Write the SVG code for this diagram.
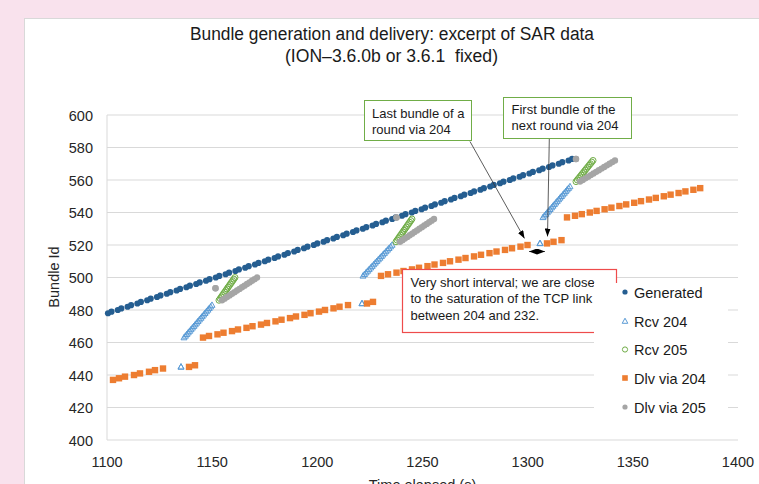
<svg xmlns="http://www.w3.org/2000/svg" width="759" height="484" viewBox="0 0 759 484">
<style>
.grid{stroke:#D9D9D9;stroke-width:1;fill:none}
.tick{font-family:"Liberation Sans",Arial,sans-serif;font-size:14.5px;fill:#262626}
.ttl{font-family:"Liberation Sans",Arial,sans-serif;font-size:18px;fill:#1a1a1a}
.note{font-family:"Liberation Sans",Arial,sans-serif;font-size:13px;fill:#1a1a1a}
.leg{font-family:"Liberation Sans",Arial,sans-serif;font-size:14.5px;fill:#1a1a1a}
.series{fill:none;stroke:none}
.conn{stroke:#333;stroke-width:0.8;fill:none}
</style>
<defs>
<marker id="mGen" viewBox="-4 -4 8 8" markerWidth="8" markerHeight="8" markerUnits="userSpaceOnUse" refX="0" refY="0"><circle r="3.1" fill="#255E91"/></marker>
<marker id="mR204" viewBox="-4 -4 8 8" markerWidth="8" markerHeight="8" markerUnits="userSpaceOnUse" refX="0" refY="0"><path d="M0,-3.2 L3,2.2 L-3,2.2 Z" fill="none" stroke="#5B9BD5" stroke-width="1"/></marker>
<marker id="mR205" viewBox="-4 -4 8 8" markerWidth="8" markerHeight="8" markerUnits="userSpaceOnUse" refX="0" refY="0"><circle r="3" fill="none" stroke="#70AD47" stroke-width="1"/></marker>
<marker id="mD204" viewBox="-4 -4 8 8" markerWidth="8" markerHeight="8" markerUnits="userSpaceOnUse" refX="0" refY="0"><rect x="-3.2" y="-3.2" width="6.4" height="6.4" fill="#ED7D31"/></marker>
<marker id="mD205" viewBox="-4 -4 8 8" markerWidth="8" markerHeight="8" markerUnits="userSpaceOnUse" refX="0" refY="0"><circle r="3.2" fill="#A5A5A5"/></marker>
<marker id="arr" viewBox="0 0 8 6" markerWidth="8" markerHeight="6" markerUnits="userSpaceOnUse" refX="8" refY="3" orient="auto-start-reverse"><path d="M0,0 L8,3 L0,6 Z" fill="#000"/></marker>
</defs>

<rect x="0" y="0" width="759" height="484" fill="#F9E2ED"/>
<rect id="chart-area" x="24.5" y="18.5" width="750" height="480" fill="#FFFFFF" stroke="#D9D9D9" stroke-width="1"/>

<g id="title">
<text class="ttl" x="392" y="40" text-anchor="middle" textLength="404" lengthAdjust="spacingAndGlyphs">Bundle generation and delivery: excerpt of SAR data</text>
<text class="ttl" x="391.5" y="61.5" text-anchor="middle" textLength="213" lengthAdjust="spacingAndGlyphs" xml:space="preserve">(ION–3.6.0b or 3.6.1  fixed)</text>
</g>

<g id="axes">
<path class="grid" d="M107,115H738 M107,147.5H738 M107,180H738 M107,212.5H738 M107,245H738 M107,277.5H738 M107,310H738 M107,342.5H738 M107,375H738 M107,407.5H738 M107,440H738 M107,115V440"/>
<g class="tick" text-anchor="end">
<text x="93" y="120.5">600</text>
<text x="93" y="153">580</text>
<text x="93" y="185.5">560</text>
<text x="93" y="218">540</text>
<text x="93" y="250.5">520</text>
<text x="93" y="283">500</text>
<text x="93" y="315.5">480</text>
<text x="93" y="348">460</text>
<text x="93" y="380.5">440</text>
<text x="93" y="413">420</text>
<text x="93" y="445.5">400</text>
</g>
<g class="tick" text-anchor="middle">
<text x="107" y="466.5">1100</text>
<text x="212.2" y="466.5">1150</text>
<text x="317.3" y="466.5">1200</text>
<text x="422.5" y="466.5">1250</text>
<text x="527.7" y="466.5">1300</text>
<text x="632.8" y="466.5">1350</text>
<text x="738" y="466.5">1400</text>
</g>
<text class="tick" transform="translate(59,277) rotate(-90)" text-anchor="middle">Bundle Id</text>
<text class="tick" x="422.5" y="490" text-anchor="middle">Time elapsed (s)</text>
</g>

<g id="series-generated">
<path class="series" marker-start="url(#mGen)" marker-mid="url(#mGen)" marker-end="url(#mGen)" d="M108,313.25 l3.5-1.625 6.3-1.625 3.5-1.625 6.3-1.625 3.5-1.625 6.3-1.625 3.5-1.625 6.3-1.625 3.5-1.625 6.3-1.625
3.5-1.625 6.3-1.625 3.5-1.625 6.3-1.625 3.5-1.625 6.3-1.625 3.5-1.625 6.3-1.625 3.5-1.625 6.3-1.625
3.5-1.625 6.3-1.625 3.5-1.625 6.3-1.625 3.5-1.625 6.3-1.625 3.5-1.625 6.3-1.625 3.5-1.625 6.3-1.625
3.5-1.625 6.3-1.625 3.5-1.625 6.3-1.625 3.5-1.625 6.3-1.625 3.5-1.625 6.3-1.625 3.5-1.625 6.3-1.625
3.5-1.625 6.3-1.625 3.5-1.625 6.3-1.625 3.5-1.625 6.3-1.625 3.5-1.625 6.3-1.625 3.5-1.625 6.3-1.625
3.5-1.625 6.3-1.625 3.5-1.625 6.3-1.625 3.5-1.625 6.3-1.625 3.5-1.625 6.3-1.625 3.5-1.625 6.3-1.625
3.5-1.625 6.3-1.625 3.5-1.625 6.3-1.625 3.5-1.625 6.3-1.625 3.5-1.625 6.3-1.625 3.5-1.625 6.3-1.625
3.5-1.625 6.3-1.625 3.5-1.625 6.3-1.625 3.5-1.625 6.3-1.625 3.5-1.625 6.3-1.625 3.5-1.625 6.3-1.625
3.5-1.625 6.3-1.625 3.5-1.625 6.3-1.625 3.5-1.625 6.3-1.625 3.5-1.625 6.3-1.625 3.5-1.625 6.3-1.625
3.5-1.625 6.3-1.625 3.5-1.625 6.3-1.625 3.5-1.625"/>
</g>

<g id="series-rcv204">
<path class="series" marker-start="url(#mR204)" marker-mid="url(#mR204)" marker-end="url(#mR204)" d="M181,366.9 l0,0
M184,337.6 l1.4-1.625 1.4-1.625 1.4-1.625 1.4-1.625 1.4-1.625 1.4-1.625 1.4-1.625 1.4-1.625 1.4-1.625 1.4-1.625 1.4-1.625 1.4-1.625 1.4-1.625 1.4-1.625 1.4-1.625 1.4-1.625 1.4-1.625 1.4-1.625 1.4-1.625 1.4-1.625
M362,303.5 l0,0
M363,275.9 l1.53-1.625 1.53-1.625 1.53-1.625 1.53-1.625 1.53-1.625 1.53-1.625 1.53-1.625 1.53-1.625 1.53-1.625 1.53-1.625 1.53-1.625 1.53-1.625 1.53-1.625 1.53-1.625 1.53-1.625 1.53-1.625 1.53-1.625 1.53-1.625 1.53-1.625
M540,243.4 l0,0
M543,217.4 l1.42-1.625 1.42-1.625 1.42-1.625 1.42-1.625 1.42-1.625 1.42-1.625 1.42-1.625 1.42-1.625 1.42-1.625 1.42-1.625 1.42-1.625 1.42-1.625 1.42-1.625 1.42-1.625 1.42-1.625 1.42-1.625 1.42-1.625 1.42-1.625 1.42-1.625"/>
</g>

<g id="series-rcv205">
<path class="series" marker-start="url(#mR205)" marker-mid="url(#mR205)" marker-end="url(#mR205)" d="M219,300.25 l1.14-1.625 1.14-1.625 1.14-1.625 1.14-1.625 1.14-1.625 1.14-1.625 1.14-1.625 1.14-1.625 1.14-1.625 1.14-1.625 1.14-1.625 1.14-1.625 1.14-1.625 1.14-1.625
M396,241.75 l1.14-1.625 1.14-1.625 1.14-1.625 1.14-1.625 1.14-1.625 1.14-1.625 1.14-1.625 1.14-1.625 1.14-1.625 1.14-1.625 1.14-1.625 1.14-1.625 1.14-1.625 1.14-1.625
M576,181.6 l1.31-1.625 1.31-1.625 1.31-1.625 1.31-1.625 1.31-1.625 1.31-1.625 1.31-1.625 1.31-1.625 1.31-1.625 1.31-1.625 1.31-1.625 1.31-1.625 1.31-1.625"/>
</g>

<g id="series-dlv204">
<path class="series" marker-start="url(#mD204)" marker-mid="url(#mD204)" marker-end="url(#mD204)" d="M113,379.9 l6-1.625 6-1.625 9-1.625 6-1.625 9-1.625 6-1.625 8-1.625
M189,366.9 l6-1.625
M203,337.6 l6-1.625 8.5-1.625 6-1.625 8.5-1.625 6-1.625 8.5-1.625 6-1.625 8.5-1.625 6-1.625 8.5-1.625 6-1.625 8.5-1.625 6-1.625 8.5-1.625 6-1.625 8.5-1.625 6-1.625 8.5-1.625 6-1.625 8.5-1.625
M367,303.5 l6-1.625
M381,275.9 l7-1.625 8.5-1.625 7-1.625 8.5-1.625 7-1.625 8.5-1.625 7-1.625 8.5-1.625 7-1.625 8.5-1.625 7-1.625 8.5-1.625 7-1.625 8.5-1.625 7-1.625 8.5-1.625 7-1.625 8.5-1.625 7-1.625
M547,243.4 l6.5-1.625 8-1.625
M567,217.4 l8-1.625 6.8-1.625 8-1.625 6.8-1.625 8-1.625 6.8-1.625 8-1.625 6.8-1.625 8-1.625 6.8-1.625 8-1.625 6.8-1.625 8-1.625 6.8-1.625 8-1.625 6.8-1.625 8-1.625 6.8-1.625"/>
</g>

<g id="series-dlv205">
<path class="series" marker-start="url(#mD205)" marker-mid="url(#mD205)" marker-end="url(#mD205)" d="M215.5,288.3 l0,0
M222,300.25 l2.5-1.625 2.5-1.625 2.5-1.625 2.5-1.625 2.5-1.625 2.5-1.625 2.5-1.625 2.5-1.625 2.5-1.625 2.5-1.625 2.5-1.625 2.5-1.625 2.5-1.625 2.5-1.625
M396.5,217.5 l0,0
M400,241.75 l2.43-1.625 2.43-1.625 2.43-1.625 2.43-1.625 2.43-1.625 2.43-1.625 2.43-1.625 2.43-1.625 2.43-1.625 2.43-1.625 2.43-1.625 2.43-1.625 2.43-1.625 2.43-1.625
M576,159 l0,0
M580,181.6 l2.69-1.625 2.69-1.625 2.69-1.625 2.69-1.625 2.69-1.625 2.69-1.625 2.69-1.625 2.69-1.625 2.69-1.625 2.69-1.625 2.69-1.625 2.69-1.625 2.69-1.625"/>
</g>

<g id="note-last">
<rect x="364.5" y="100.5" width="107" height="40" fill="#FFFFFF" stroke="#70AD47" stroke-width="1"/>
<text class="note" x="372" y="118">Last bundle of a</text>
<text class="note" x="372" y="134">round via 204</text>
</g>

<g id="note-first">
<rect x="503.5" y="97.5" width="128" height="41" fill="#FFFFFF" stroke="#70AD47" stroke-width="1"/>
<text class="note" x="511.5" y="113.5">First bundle of the</text>
<text class="note" x="511.5" y="129.5">next round via 204</text>
</g>

<g id="note-interval">
<rect x="402.5" y="269.5" width="214" height="63" fill="#FFFFFF" stroke="#EE4B4B" stroke-width="1.2"/>
<text class="note" x="410.5" y="286.5">Very short interval; we are close</text>
<text class="note" x="410.5" y="303">to the saturation of the TCP link</text>
<text class="note" x="410.5" y="319.5">between 204 and 232.</text>
</g>

<g id="connectors">
<line class="conn" x1="470" y1="141.5" x2="524.5" y2="238.5" marker-end="url(#arr)"/>
<line class="conn" x1="549.3" y1="139" x2="547.5" y2="236.5" marker-end="url(#arr)"/>
<line class="conn" x1="529" y1="251.5" x2="545" y2="251.5" marker-start="url(#arr)" marker-end="url(#arr)"/>
</g>

<g id="legend">
<rect x="594" y="283" width="134" height="136" fill="#FFFFFF"/>
<circle cx="625" cy="292" r="2.6" fill="#255E91"/>
<path d="M625,318.2 L627.8,323.3 L622.2,323.3 Z" fill="#FFFFFF" stroke="#5B9BD5" stroke-width="1"/>
<circle cx="625" cy="349.5" r="2.6" fill="#FFFFFF" stroke="#70AD47" stroke-width="1"/>
<rect x="622.2" y="375.2" width="5.6" height="5.6" fill="#ED7D31"/>
<circle cx="625" cy="407" r="2.6" fill="#A5A5A5"/>
<text class="leg" x="634" y="297.5">Generated</text>
<text class="leg" x="634" y="326.5">Rcv 204</text>
<text class="leg" x="634" y="355">Rcv 205</text>
<text class="leg" x="634" y="383.5">Dlv via 204</text>
<text class="leg" x="634" y="412.5">Dlv via 205</text>
</g>
</svg>
